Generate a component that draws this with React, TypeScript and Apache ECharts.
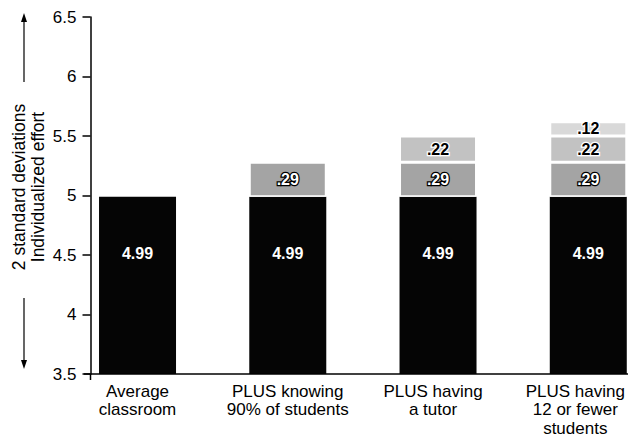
import React, { useEffect, useRef } from "react";
import * as echarts from "echarts";

const categories = [
  "Average\nclassroom",
  "PLUS knowing\n90% of students",
  "PLUS having\na tutor",
  "PLUS having\n12 or fewer\nstudents",
];
const baseValues = [4.99, 4.99, 4.99, 4.99];
const knowingValues = [null, 0.29, 0.29, 0.29];
const tutorValues = [null, null, 0.22, 0.22];
const smallClassValues = [null, null, null, 0.12];
const yTicks = { min: 3.5, max: 6.5, interval: 0.5 };
const yTitle = "2 standard deviations\nIndividualized effort";

const FONT = "'Liberation Sans', Arial, sans-serif";

export default function App() {
  const ref = useRef<HTMLDivElement>(null);
  useEffect(() => {
    document.body.style.margin = "0";
    if (!ref.current) return;
    const chart = echarts.init(ref.current, undefined, { renderer: "svg" });
    const segLabel = (dark: boolean) => ({
      show: true,
      position: "inside" as const,
      formatter: (p: any) => (p.value == null ? "" : "." + Math.round(p.value * 100)),
      fontFamily: FONT,
      fontSize: 16,
      fontWeight: "bold" as const,
      color: dark ? "#fff" : "#000",
      textBorderColor: dark ? "#000" : "#fff",
      textBorderWidth: 2.5,
    });
    const catData = categories.map((c, i) =>
      i === categories.length - 1
        ? { value: c, textStyle: { padding: [0, 26, 0, 0] } }
        : { value: c, textStyle: { padding: [0, i === 2 ? 10 : 0, 0, 0] } }
    );
    chart.setOption({
      animation: false,
      grid: {
        left: 62.4,
        right: -34.4,
        top: 17,
        bottom: 65,
        containLabel: false,
        outerBoundsMode: "none",
      },
      xAxis: {
        type: "category",
        data: catData,
        axisLine: { show: false },
        axisTick: { show: false },
        splitLine: { show: false },
        axisLabel: {
          color: "#000",
          fontFamily: FONT,
          fontSize: 17,
          lineHeight: 18.5,
          margin: 8,
          interval: 0,
        },
      },
      yAxis: {
        type: "value",
        min: yTicks.min,
        max: yTicks.max,
        interval: yTicks.interval,
        offset: -28.1,
        axisLine: { show: true, lineStyle: { color: "#000", width: 1.5 } },
        axisTick: { show: true, inside: false, length: 8, lineStyle: { color: "#000", width: 1.5 } },
        splitLine: { show: false },
        axisLabel: {
          color: "#000",
          fontFamily: FONT,
          fontSize: 17,
          margin: 14,
        },
      },
      series: [
        {
          type: "bar",
          stack: "total",
          barWidth: 77,
          data: baseValues,
          itemStyle: { color: "#050505" },
          label: {
            show: true,
            position: "insideTop",
            distance: 49,
            formatter: (p: any) => Number(p.value).toFixed(2),
            color: "#fff",
            fontFamily: FONT,
            fontSize: 16,
            fontWeight: "bold",
          },
        },
        {
          type: "bar",
          stack: "total",
          barWidth: 77,
          data: knowingValues,
          itemStyle: { color: "#a4a4a4", borderColor: "#fff", borderWidth: 1.5 },
          label: segLabel(true),
        },
        {
          type: "bar",
          stack: "total",
          barWidth: 77,
          data: tutorValues,
          itemStyle: { color: "#c2c2c2", borderColor: "#fff", borderWidth: 1.5 },
          label: segLabel(false),
        },
        {
          type: "bar",
          stack: "total",
          barWidth: 77,
          data: smallClassValues,
          itemStyle: { color: "#d9d9d9", borderColor: "#fff", borderWidth: 1.5 },
          label: segLabel(false),
        },
      ],
      graphic: [
        // x axis baseline and the small cross at the origin
        { type: "line", z: 100, shape: { x1: 84, y1: 374, x2: 628, y2: 374 }, style: { stroke: "#000", lineWidth: 1.5 } },
        { type: "line", z: 100, shape: { x1: 90.5, y1: 374, x2: 90.5, y2: 380 }, style: { stroke: "#000", lineWidth: 1.5 } },
        // arrows beside the axis title
        { type: "line", shape: { x1: 24, y1: 20, x2: 24, y2: 82 }, style: { stroke: "#000", lineWidth: 1.2 } },
        { type: "polygon", shape: { points: [[24, 13], [21, 22], [27, 22]] }, style: { fill: "#000" } },
        { type: "line", shape: { x1: 24, y1: 298, x2: 24, y2: 362 }, style: { stroke: "#000", lineWidth: 1.2 } },
        { type: "polygon", shape: { points: [[24, 369], [21, 360], [27, 360]] }, style: { fill: "#000" } },
        {
          type: "text",
          x: 28,
          y: 187,
          rotation: Math.PI / 2,
          style: {
            text: yTitle,
            fontFamily: FONT,
            fontSize: 17.5,
            lineHeight: 19,
            fill: "#000",
            textAlign: "center",
            textVerticalAlign: "middle",
          },
        },
      ],
    });
    return () => chart.dispose();
  }, []);
  return <div ref={ref} style={{ width: 629, height: 439 }} />;
}
